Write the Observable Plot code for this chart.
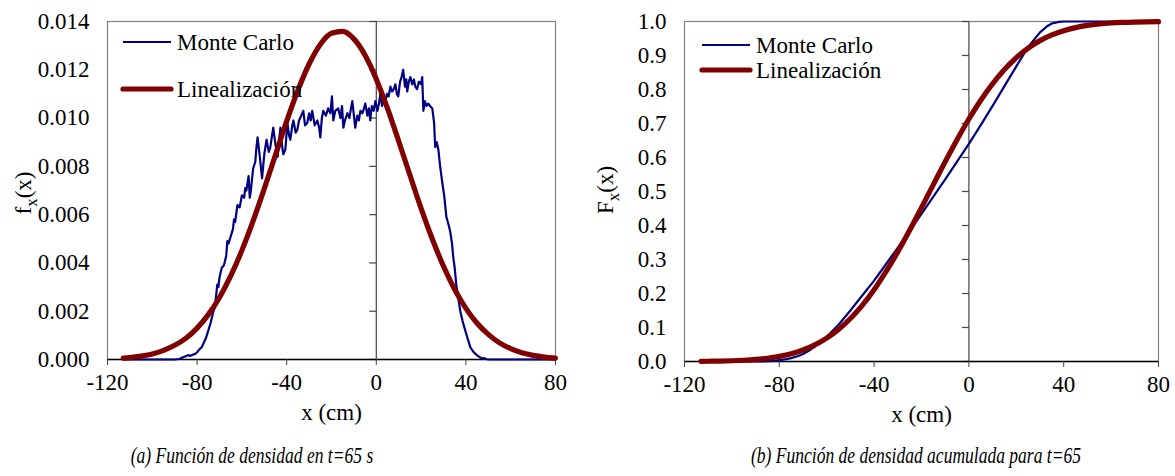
<!DOCTYPE html>
<html>
<head>
<meta charset="utf-8">
<script src="https://cdn.jsdelivr.net/npm/d3@7"></script>
<script src="https://cdn.jsdelivr.net/npm/@observablehq/plot@0.6"></script>
<style>
  html, body { margin: 0; padding: 0; background: #fff; }
  #wrap { position: relative; width: 1175px; height: 476px; font-family: "Liberation Serif", "Times New Roman", serif; }
  .panel { position: absolute; top: 0; }
  .caption { position: absolute; top: 442px; font-style: italic; font-size: 24px; white-space: nowrap; transform: translateX(-50%) scaleX(0.73); color: #000; }
</style>
</head>
<body>
<div id="wrap">
  <div class="panel" id="left" style="left:0px"></div>
  <div class="panel" id="right" style="left:587px"></div>
  <div class="caption" id="capA" style="left:252px"></div>
  <div class="caption" id="capB" style="left:916px"></div>
</div>
<script>
// ---------- data ----------
const seriesNames = ["Monte Carlo", "Linealización"];
const seriesColors = ["#000080", "#800000"];
const xTicks = [-120, -80, -40, 0, 40, 80];
const pdfTicks = [0, 0.002, 0.004, 0.006, 0.008, 0.010, 0.012, 0.014];
const cdfTicks = [0, 0.1, 0.2, 0.3, 0.4, 0.5, 0.6, 0.7, 0.8, 0.9, 1.0];
const xLabel = "x (cm)";
const captionA = "(a) Función de densidad en t=65 s";
const captionB = "(b) Función de densidad acumulada para t=65";

// Monte Carlo density (a)
const mcPdfX = [-113,-105,-95,-90,-88,-86,-84,-83,-82,-81,-80,-79,-78,-77,-76,-75,-74,-73,-72,-71,-70.5,-70,-69,-68,-67,-66.5,-66,-65,-64,-63.5,-63,-62,-61,-60,-59,-58.5,-58,-57,-56.5,-56,-55,-54,-53.5,-53,-52,-51,-50,-49,-48,-47.3,-46.5,-46,-45,-44,-43.5,-42.8,-42,-41.5,-40.6,-39.7,-39,-38.4,-37.5,-37,-36,-35.3,-34.5,-33.5,-32.6,-31.8,-30.8,-30,-29.3,-28.6,-27.5,-26.3,-25.5,-25,-24.3,-23.7,-22.5,-21.5,-20.5,-19.8,-19.2,-18.3,-17,-16,-15.3,-14.7,-14,-12.9,-12,-11.3,-10.7,-10,-9.4,-8.5,-7.8,-7.1,-6.2,-5.5,-4.9,-4,-3.3,-2.7,-2,-1.2,-0.4,0.5,1.2,1.8,2.6,3.3,4,4.8,5.5,6.3,7,7.8,8.5,9.2,9.8,10.6,11.3,12,12.8,13.4,13.8,14.5,15.2,16,16.8,17.4,18.2,19,20,20.5,21,21.7,22.4,23.2,24,25,25.8,26.3,27,27.7,28.5,29.5,30.3,31.3,32.2,33,33.8,34.4,35,35.7,36.5,37.5,38.5,39.7,41,42,43.5,45,46.5,47.3,48,49,50,60,70,80];
const mcPdfY = [0,0,0,0,0.00002,0.0001,0.00018,0.00015,0.0002,0.00022,0.0003,0.00042,0.0005,0.0007,0.0009,0.0012,0.0015,0.0019,0.0022,0.0031,0.0030,0.0034,0.0038,0.0039,0.0043,0.0049,0.0048,0.0051,0.0054,0.0058,0.0057,0.0064,0.0063,0.0068,0.0067,0.0071,0.0070,0.0076,0.0067,0.0070,0.0079,0.0082,0.0088,0.0092,0.0084,0.0075,0.0085,0.0091,0.0086,0.0088,0.0093,0.0096,0.0089,0.0084,0.0090,0.0096,0.0088,0.0085,0.0087,0.0098,0.0093,0.0091,0.0097,0.0099,0.0094,0.0095,0.0099,0.0101,0.0103,0.0097,0.0098,0.0102,0.0099,0.0103,0.0097,0.0099,0.0096,0.0092,0.0100,0.0103,0.0101,0.0104,0.0102,0.0109,0.0099,0.0103,0.0104,0.0100,0.0105,0.0096,0.0099,0.0102,0.0100,0.0104,0.0107,0.0101,0.0096,0.0101,0.0099,0.0103,0.0102,0.0104,0.0106,0.0101,0.0104,0.0099,0.0105,0.0103,0.0107,0.0103,0.0106,0.0110,0.0105,0.0108,0.0107,0.0110,0.0109,0.0113,0.0111,0.0112,0.0114,0.0110,0.0109,0.0115,0.0117,0.0120,0.0113,0.0116,0.0111,0.0115,0.0117,0.0114,0.0116,0.0113,0.0112,0.0115,0.0114,0.0117,0.0103,0.0107,0.0105,0.0106,0.0105,0.0104,0.0098,0.0088,0.0090,0.0087,0.0080,0.0073,0.0068,0.0059,0.0056,0.0053,0.0048,0.0042,0.0038,0.0031,0.0026,0.0020,0.0016,0.0012,0.0008,0.0005,0.0003,0.00017,0.00008,0.00004,0.00006,0.00002,0,0,0,0];

// Linearization density (a)
const linX = [-113,-110,-105,-100,-95,-90,-85,-80,-75,-70,-65,-60,-55,-50,-45,-40,-35,-30,-25,-20,-15,-10,-5,0,5,10,15,20,25,30,35,40,45,50,55,60,65,70,75,80];
const linPdfY = [0.00006,0.00008,0.00014,0.00023,0.00038,0.00059,0.00088,0.00130,0.00186,0.00257,0.00346,0.00452,0.00574,0.00708,0.00848,0.00987,0.01115,0.01224,0.01305,0.01351,0.01359,0.01328,0.01260,0.01161,0.01040,0.00904,0.00764,0.00626,0.00499,0.00386,0.00290,0.00212,0.00150,0.00104,0.00069,0.00045,0.00028,0.00017,0.00010,0.00006];

// Cumulative (b)
const mcCdfX = [-113,-90,-87,-85,-82,-80,-77,-75,-72,-70,-67,-65,-62,-60,-55,-50,-45,-40,-35,-30,-25,-20,-15,-10,-5,0,5,10,15,20,25,30,33,35,38,40,45,50,80];
const mcCdfY = [0,0,0.0003,0.001,0.002,0.004,0.007,0.010,0.016,0.022,0.034,0.044,0.060,0.073,0.108,0.150,0.194,0.238,0.286,0.335,0.384,0.434,0.485,0.536,0.588,0.640,0.695,0.752,0.810,0.868,0.925,0.968,0.986,0.994,0.999,1.0,1.0,1.0,1.0];
const linCdfY = [0.0005,0.0008,0.0013,0.0022,0.0037,0.0060,0.0096,0.0151,0.0228,0.0339,0.0490,0.0688,0.0944,0.1265,0.1653,0.2113,0.2640,0.3224,0.3859,0.4526,0.5204,0.5878,0.6525,0.7133,0.7685,0.8170,0.8588,0.8936,0.9216,0.9438,0.9606,0.9731,0.9821,0.9884,0.9927,0.9955,0.9973,0.9984,0.9991,0.9995];

// ---------- helpers ----------
const FONT = "'Liberation Serif', 'Times New Roman', serif";
const FS = 23;
// a short horizontal tick pointing left from the anchor point
const leftTick = {draw(ctx) { ctx.moveTo(-7, 0); ctx.lineTo(0, 0); }};

function panel({el, width, marginLeft, marginRight, plotBottom, yTicksArr, yFmt, series, yLabel, legendPos}) {
  const height = 430;
  const plot = Plot.plot({
    width, height,
    marginLeft, marginRight,
    marginTop: 21,
    marginBottom: height - plotBottom,
    style: {fontFamily: FONT, fontSize: FS + "px", color: "#000", background: "#fff"},
    x: {domain: [-120, 80]},
    y: {domain: [yTicksArr[0], yTicksArr[yTicksArr.length - 1]]},
    marks: [
      Plot.frame({stroke: "#808080", strokeWidth: 1.2}),
      Plot.ruleX([0], {stroke: "#444", strokeWidth: 1.2}),
      Plot.dot(yTicksArr, {x: () => 0, y: d => d, symbol: leftTick, r: 7, stroke: "#444", strokeWidth: 1.2, fill: "none"}),
      Plot.ruleY([0], {stroke: "#000", strokeWidth: 1.5}),
      Plot.axisX({ticks: xTicks, tickSize: 6, tickPadding: 8, label: null, stroke: "#444", fontSize: FS, tickFormat: d => d < 0 ? "-" + Math.abs(d) : String(d)}),
      Plot.axisY({ticks: yTicksArr, tickSize: 0, tickPadding: 18, label: null, tickFormat: yFmt, fontSize: FS}),
      Plot.text([xLabel], {frameAnchor: "bottom", dy: 53, text: d => d, fontSize: FS, lineAnchor: "middle"}),
      ...series.map((s, i) => Plot.line(s.x.map((x, j) => ({x, y: s.y[j]})), {
        x: "x", y: "y", stroke: seriesColors[i], strokeWidth: i === 0 ? 2.2 : 5.2,
        curve: i === 0 ? "linear" : "monotone-x", strokeLinejoin: "round", strokeLinecap: "round"
      }))
    ]
  });
  const svg = d3.select(plot);
  // y label with subscript
  const lab = svg.append("text")
    .attr("transform", `translate(${yLabel.x},${yLabel.y}) rotate(-90)`)
    .attr("text-anchor", "middle")
    .attr("font-family", FONT).attr("font-size", FS).attr("fill", "#000");
  lab.append("tspan").text(yLabel.letter);
  lab.append("tspan").attr("dy", 6).attr("font-size", FS - 6).text("x");
  lab.append("tspan").attr("dy", -6).text("(x)");
  // legend
  seriesNames.forEach((name, i) => {
    const ly = legendPos.y[i];
    svg.append("line")
      .attr("x1", legendPos.x).attr("x2", legendPos.x + 48)
      .attr("y1", ly).attr("y2", ly)
      .attr("stroke", seriesColors[i]).attr("stroke-width", i === 0 ? 2.2 : 5.2)
      .attr("stroke-linecap", i === 0 ? "butt" : "round");
    svg.append("text")
      .attr("x", legendPos.x + 54).attr("y", ly + 8)
      .attr("text-anchor", "start")
      .attr("font-family", FONT).attr("font-size", FS).attr("fill", "#000")
      .text(name);
  });
  el.appendChild(plot);
}

panel({
  el: document.getElementById("left"),
  width: 587, marginLeft: 107, marginRight: 32, plotBottom: 359,
  yTicksArr: pdfTicks, yFmt: d3.format(".3f"),
  series: [{x: mcPdfX, y: mcPdfY}, {x: linX, y: linPdfY}],
  yLabel: {x: 31, y: 193, letter: "f"},
  legendPos: {x: 123, y: [42, 89]}
});
panel({
  el: document.getElementById("right"),
  width: 588, marginLeft: 97, marginRight: 17, plotBottom: 361,
  yTicksArr: cdfTicks, yFmt: d3.format(".1f"),
  series: [{x: mcCdfX, y: mcCdfY}, {x: linX, y: linCdfY}],
  yLabel: {x: 26, y: 190, letter: "F"},
  legendPos: {x: 115, y: [45, 70]}
});
document.getElementById("capA").textContent = captionA;
document.getElementById("capB").textContent = captionB;
</script>
</body>
</html>
